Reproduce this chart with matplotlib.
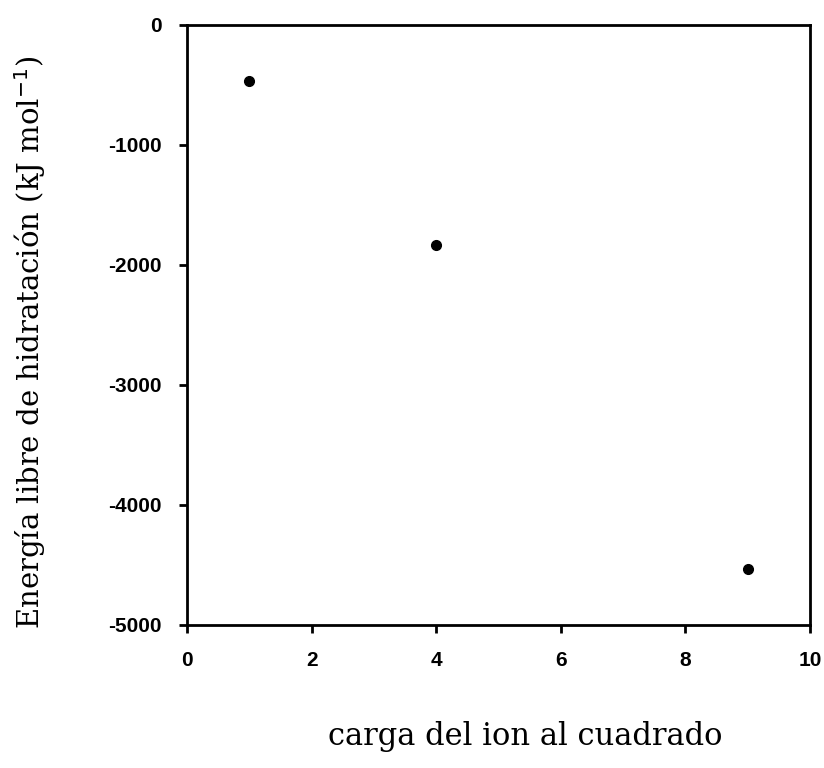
import matplotlib
matplotlib.use("Agg")
import matplotlib.pyplot as plt

charge_sq = [1, 4, 9]
energy = [-470, -1830, -4530]
xticks = [0, 2, 4, 6, 8, 10]
yticks = [0, -1000, -2000, -3000, -4000, -5000]

fig = plt.figure(figsize=(8.24, 7.68), dpi=100)
ax = fig.add_axes([187/824, 1 - 625/768, (810-187)/824, (625-25)/768])
ax.plot(charge_sq, energy, 'o', color='black', markersize=7)
ax.set_xlim(0, 10)
ax.set_ylim(-5000, 0)
ax.set_xticks(xticks)
ax.set_yticks(yticks)
ax.set_xticklabels([str(t) for t in xticks], fontweight='bold', fontsize=15, family='Liberation Sans')
ax.set_yticklabels([str(t) for t in yticks], fontweight='bold', fontsize=15, family='Liberation Sans')
for s in ax.spines.values():
    s.set_linewidth(2)
ax.tick_params(direction='out', length=6, width=2)
ax.tick_params(axis='x', pad=13)
ax.tick_params(axis='y', pad=12)
fig.text(525/824, 1 - 737/768, 'carga del ion al cuadrado', ha='center', va='center',
         fontsize=22, family='DejaVu Serif')
fig.text(30/824, 1 - 342/768, 'Energía libre de hidratación (kJ mol$^{-1}$)', ha='center', va='center',
         rotation=90, fontsize=21, family='DejaVu Serif')
fig.savefig('out.png', dpi=100)
